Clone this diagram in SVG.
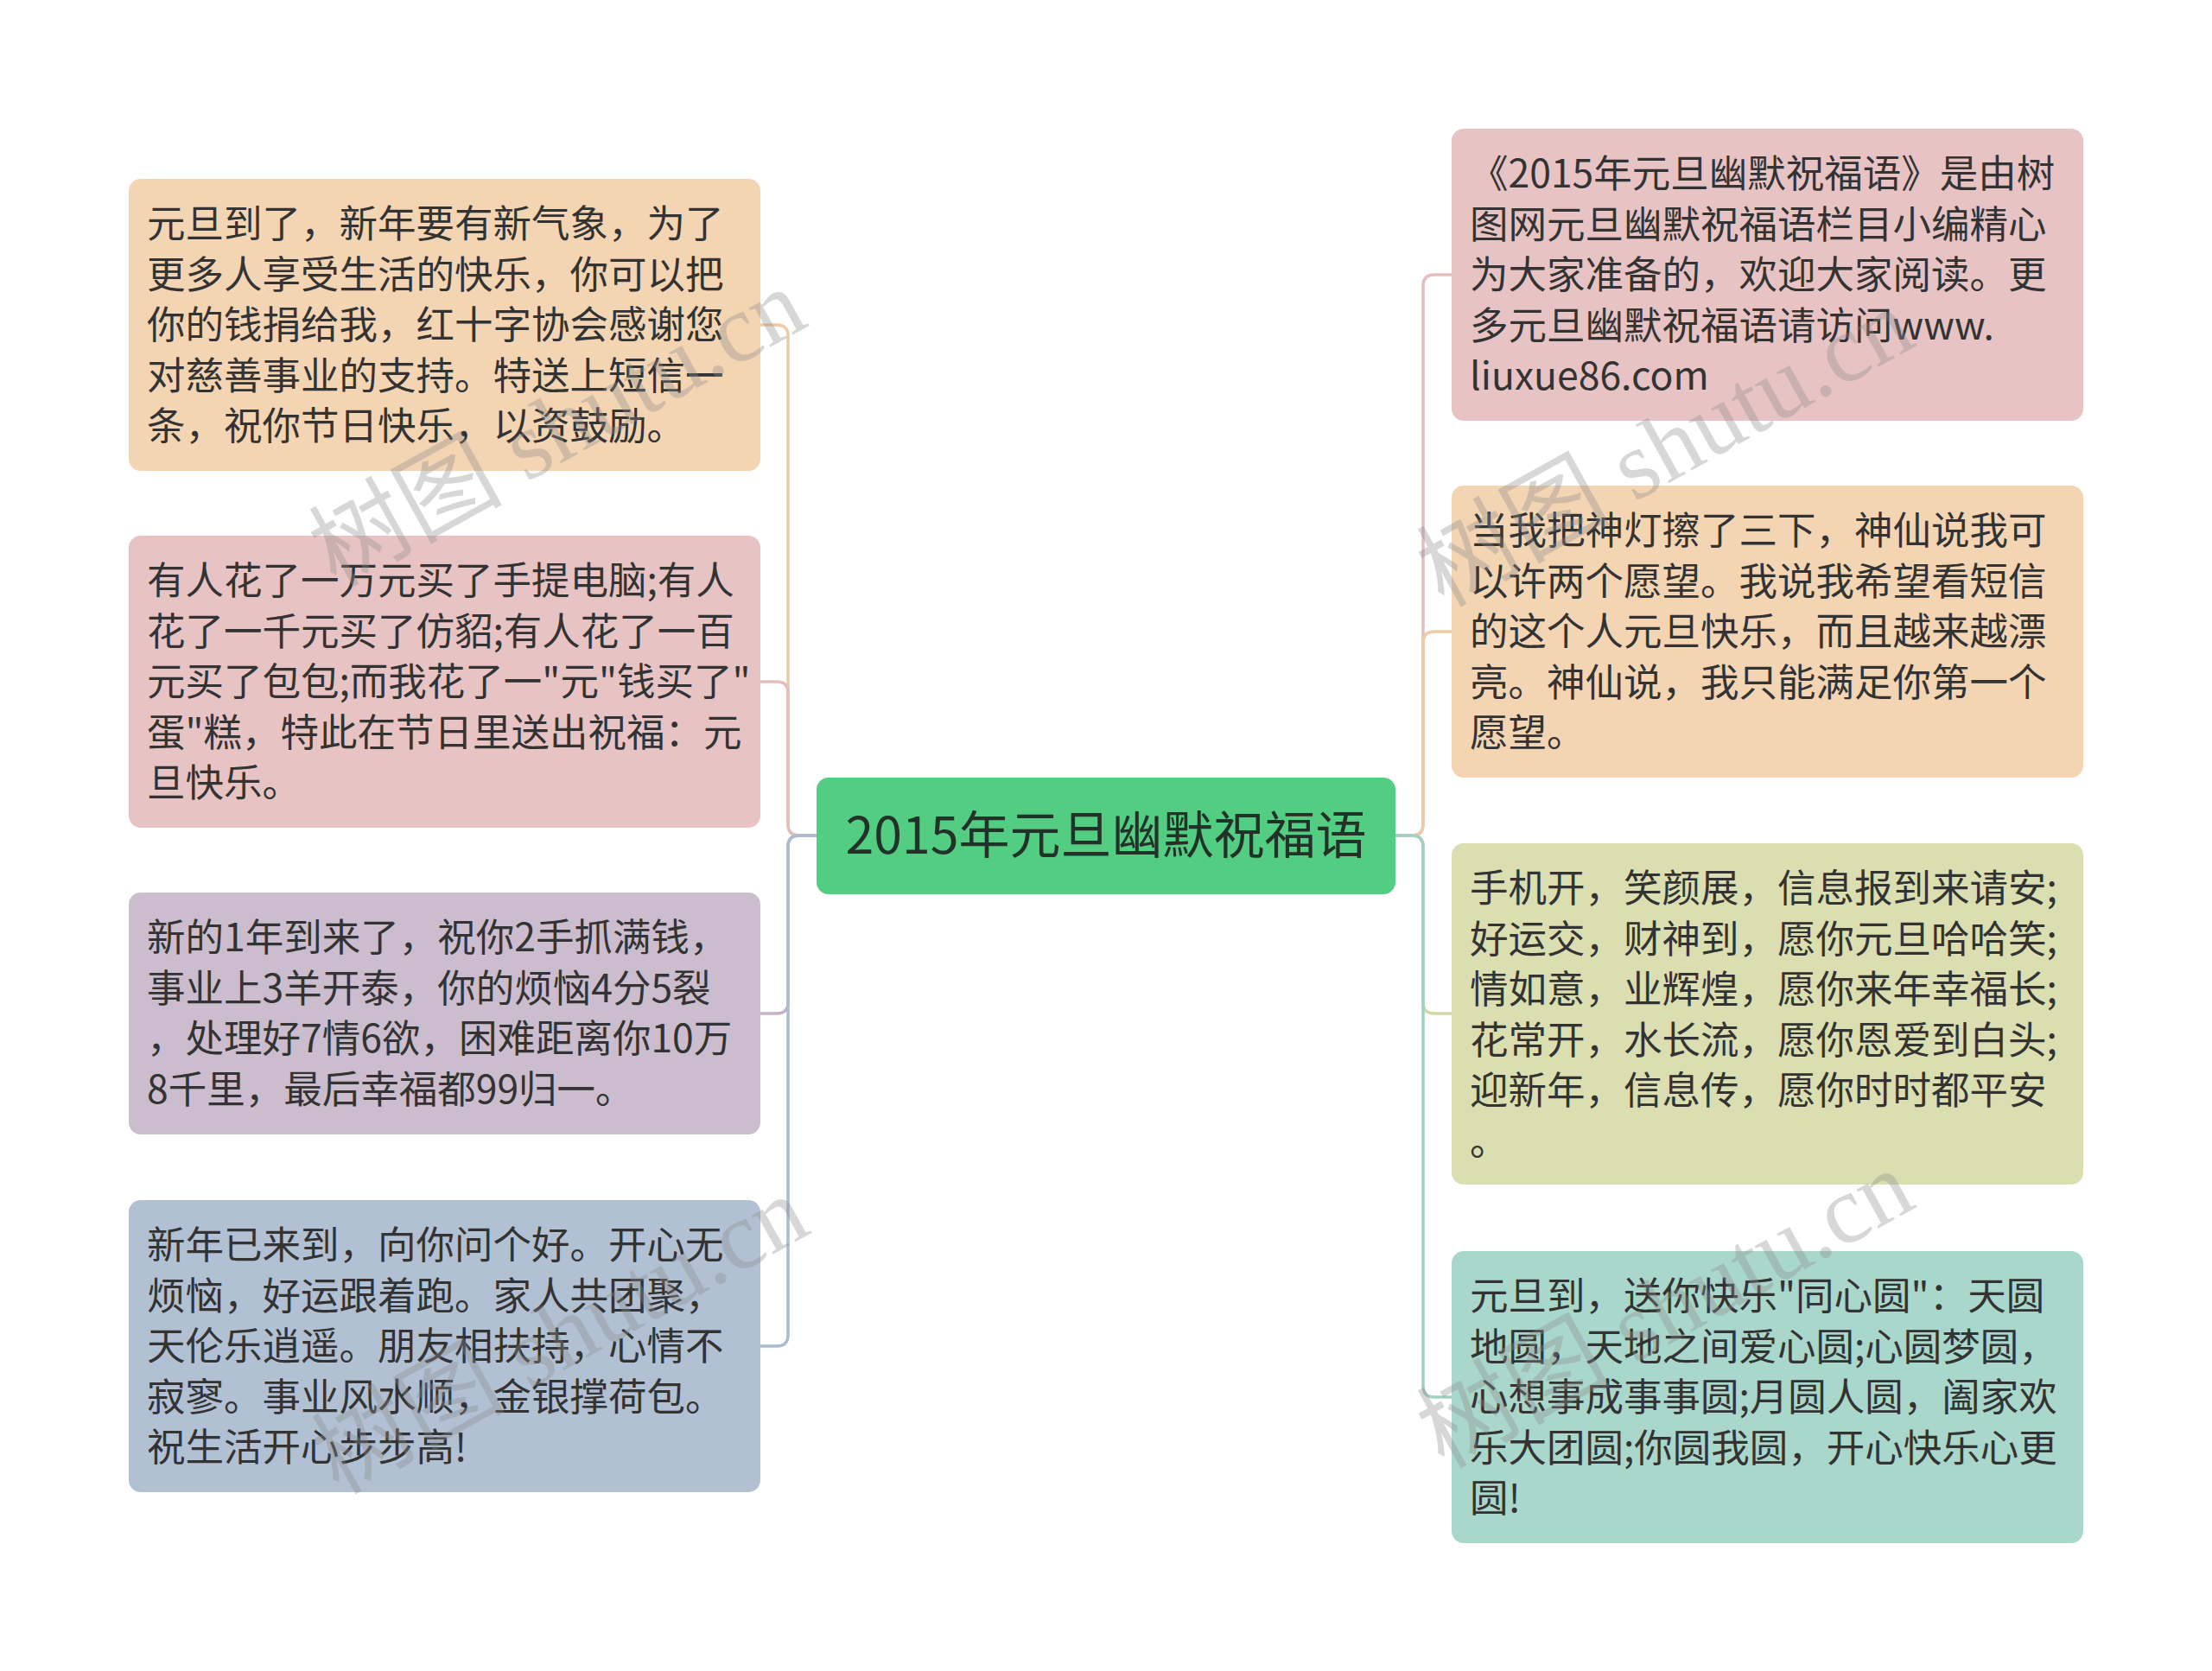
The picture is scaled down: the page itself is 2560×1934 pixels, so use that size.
<svg xmlns="http://www.w3.org/2000/svg" width="2560" height="1934" viewBox="0 0 2560 1934">
<style>
.t{font-family:"Noto Sans CJK SC","Noto Sans",sans-serif;font-size:44.5px;fill:#333333}
.ct{font-family:"Noto Sans CJK SC","Noto Sans",sans-serif;font-size:59px;fill:#233229}
.c{fill:none;stroke-width:3.5;stroke-linecap:round;stroke-linejoin:round}
.wm{font-family:"Liberation Serif","Noto Sans CJK SC",serif;font-size:112px;fill:#8c8c8c;fill-opacity:0.35}
</style>
<rect width="2560" height="1934" fill="#ffffff"/>
<g id="connectors">
<path class="c" stroke="#EDCBA5" d="M945 967 H925 Q912 967 912 954 V389 Q912 376 899 376 H880"/>
<path class="c" stroke="#E4BDBD" d="M945 967 H925 Q912 967 912 954 V802 Q912 789 899 789 H880"/>
<path class="c" stroke="#C5B3C8" d="M945 967 H925 Q912 967 912 980 V1160 Q912 1173 899 1173 H880"/>
<path class="c" stroke="#ABBCD0" d="M945 967 H925 Q912 967 912 980 V1545 Q912 1558 899 1558 H880"/>
<path class="c" stroke="#E4BDBD" d="M1615 967 H1634 Q1647 967 1647 954 V331 Q1647 318 1660 318 H1680"/>
<path class="c" stroke="#EDCBA5" d="M1615 967 H1634 Q1647 967 1647 954 V744 Q1647 731 1660 731 H1680"/>
<path class="c" stroke="#D3D7A6" d="M1615 967 H1634 Q1647 967 1647 980 V1160 Q1647 1173 1660 1173 H1680"/>
<path class="c" stroke="#A3D0C4" d="M1615 967 H1634 Q1647 967 1647 980 V1604 Q1647 1617 1660 1617 H1680"/>
</g>
<g id="center">
<rect x="945" y="900" width="670" height="135" rx="14" fill="#53CD82"/>
<text class="ct" x="1280" y="988" text-anchor="middle">2015年元旦幽默祝福语</text>
</g>
<g id="left1">
<rect x="149" y="207" width="731" height="338" rx="14" fill="#F3D5B3"/>
<text class="t"><tspan x="170" y="275">元旦到了，新年要有新气象，为了</tspan><tspan x="170" y="333.6">更多人享受生活的快乐，你可以把</tspan><tspan x="170" y="392.2">你的钱捐给我，红十字协会感谢您</tspan><tspan x="170" y="450.8">对慈善事业的支持。特送上短信一</tspan><tspan x="170" y="509.4">条，祝你节日快乐，以资鼓励。</tspan></text>
</g>
<g id="left2">
<rect x="149" y="620" width="731" height="338" rx="14" fill="#E8C3C3"/>
<text class="t"><tspan x="170" y="688">有人花了一万元买了手提电脑;有人</tspan><tspan x="170" y="746.6">花了一千元买了仿貂;有人花了一百</tspan><tspan x="170" y="805.2">元买了包包;而我花了一"元"钱买了"</tspan><tspan x="170" y="863.8">蛋"糕，特此在节日里送出祝福：元</tspan><tspan x="170" y="922.4">旦快乐。</tspan></text>
</g>
<g id="left3">
<rect x="149" y="1033" width="731" height="280" rx="14" fill="#CBBDCD"/>
<text class="t"><tspan x="170" y="1101">新的1年到来了，祝你2手抓满钱，</tspan><tspan x="170" y="1159.6">事业上3羊开泰，你的烦恼4分5裂</tspan><tspan x="170" y="1218.2">，处理好7情6欲，困难距离你10万</tspan><tspan x="170" y="1276.8">8千里，最后幸福都99归一。</tspan></text>
</g>
<g id="left4">
<rect x="149" y="1389" width="731" height="338" rx="14" fill="#B1C1D3"/>
<text class="t"><tspan x="170" y="1457">新年已来到，向你问个好。开心无</tspan><tspan x="170" y="1515.6">烦恼，好运跟着跑。家人共团聚，</tspan><tspan x="170" y="1574.2">天伦乐逍遥。朋友相扶持，心情不</tspan><tspan x="170" y="1632.8">寂寥。事业风水顺，金银撑荷包。</tspan><tspan x="170" y="1691.4">祝生活开心步步高!</tspan></text>
</g>
<g id="right1">
<rect x="1680" y="149" width="731" height="338" rx="14" fill="#E8C3C3"/>
<text class="t"><tspan x="1701" y="217">《2015年元旦幽默祝福语》是由树</tspan><tspan x="1701" y="275.6">图网元旦幽默祝福语栏目小编精心</tspan><tspan x="1701" y="334.2">为大家准备的，欢迎大家阅读。更</tspan><tspan x="1701" y="392.8">多元旦幽默祝福语请访问www.</tspan><tspan x="1701" y="451.4">liuxue86.com</tspan></text>
</g>
<g id="right2">
<rect x="1680" y="562" width="731" height="338" rx="14" fill="#F3D5B3"/>
<text class="t"><tspan x="1701" y="630">当我把神灯擦了三下，神仙说我可</tspan><tspan x="1701" y="688.6">以许两个愿望。我说我希望看短信</tspan><tspan x="1701" y="747.2">的这个人元旦快乐，而且越来越漂</tspan><tspan x="1701" y="805.8">亮。神仙说，我只能满足你第一个</tspan><tspan x="1701" y="864.4">愿望。</tspan></text>
</g>
<g id="right3">
<rect x="1680" y="976" width="731" height="395" rx="14" fill="#DBDEB0"/>
<text class="t"><tspan x="1701" y="1044">手机开，笑颜展，信息报到来请安;</tspan><tspan x="1701" y="1102.6">好运交，财神到，愿你元旦哈哈笑;</tspan><tspan x="1701" y="1161.2">情如意，业辉煌，愿你来年幸福长;</tspan><tspan x="1701" y="1219.8">花常开，水长流，愿你恩爱到白头;</tspan><tspan x="1701" y="1278.4">迎新年，信息传，愿你时时都平安</tspan><tspan x="1701" y="1337">。</tspan></text>
</g>
<g id="right4">
<rect x="1680" y="1448" width="731" height="338" rx="14" fill="#A9D7CB"/>
<text class="t"><tspan x="1701" y="1516">元旦到，送你快乐"同心圆"：天圆</tspan><tspan x="1701" y="1574.6">地圆，天地之间爱心圆;心圆梦圆，</tspan><tspan x="1701" y="1633.2">心想事成事事圆;月圆人圆，阖家欢</tspan><tspan x="1701" y="1691.8">乐大团圆;你圆我圆，开心快乐心更</tspan><tspan x="1701" y="1750.4">圆!</tspan></text>
</g>
<g id="watermarks">
<text class="wm" text-anchor="middle" dominant-baseline="central" transform="translate(645 495) rotate(-29)">树图 shutu.cn</text>
<text class="wm" text-anchor="middle" dominant-baseline="central" transform="translate(1927 518) rotate(-29)">树图 shutu.cn</text>
<text class="wm" text-anchor="middle" dominant-baseline="central" transform="translate(648 1545) rotate(-29)">树图 shutu.cn</text>
<text class="wm" text-anchor="middle" dominant-baseline="central" transform="translate(1927 1515) rotate(-29)">树图 shutu.cn</text>
</g>
</svg>
